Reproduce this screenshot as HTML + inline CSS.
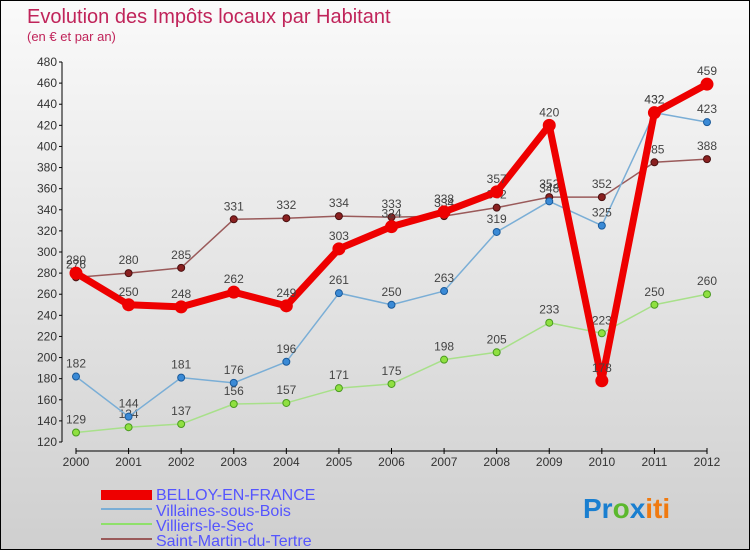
<!DOCTYPE html>
<html><head><meta charset="utf-8"><style>
body{margin:0;width:750px;height:550px;overflow:hidden;font-family:"Liberation Sans",sans-serif}
#c{position:absolute;left:0;top:0;width:748px;height:548px;border:1px solid #000;background:linear-gradient(#fafafa,#cfcfcf)}
</style></head><body>
<div id="c">
<svg id="s" width="750" height="550" xmlns="http://www.w3.org/2000/svg">
<text x="26" y="22" font-size="20" fill="#c0245a">Evolution des Impôts locaux par Habitant</text>
<text x="26" y="40" font-size="13" fill="#c0245a">(en € et par an)</text>
<g id="ax"></g><g id="series"></g>
<g>
<rect x="100" y="489" width="51" height="10" fill="#e00"/>
<text x="155" y="499" font-size="16" fill="#55f">BELLOY-EN-FRANCE</text>
<line x1="100" y1="508" x2="151" y2="508" stroke="#7aaed6" stroke-width="2"/>
<text x="155" y="515" font-size="16" fill="#55f">Villaines-sous-Bois</text>
<line x1="100" y1="523" x2="151" y2="523" stroke="#8fe06a" stroke-width="2"/>
<text x="155" y="530" font-size="16" fill="#55f">Villiers-le-Sec</text>
<line x1="100" y1="538" x2="151" y2="538" stroke="#9a5a5a" stroke-width="2"/>
<text x="155" y="545" font-size="16" fill="#55f">Saint-Martin-du-Tertre</text>
</g>
<text x="582" y="517" font-size="28" font-weight="bold"><tspan fill="#1a7fd0">Pr</tspan><tspan fill="#5cb82e">o</tspan><tspan fill="#1a7fd0">x</tspan><tspan fill="#f07a10">iti</tspan></text>
</svg></div>
<script>
const years=[2000,2001,2002,2003,2004,2005,2006,2007,2008,2009,2010,2011,2012];
const yTicks=[120,140,160,180,200,220,240,260,280,300,320,340,360,380,400,420,440,460,480];
const belloy=[280,250,248,262,249,303,324,338,357,420,178,432,459];
const villaines=[182,144,181,176,196,261,250,263,319,348,325,432,423];
const villiers=[129,134,137,156,157,171,175,198,205,233,223,250,260];
const saintMartin=[276,280,285,331,332,334,333,334,342,352,352,385,388];
const NS="http://www.w3.org/2000/svg";
function X(i){return 75+i*(706-75)/(years.length-1);}
function Y(v){return 441-(v-120)*380/360;}
function mk(t,a,p){const e=document.createElementNS(NS,t);for(const k in a)e.setAttribute(k,a[k]);p.appendChild(e);return e;}
const ax=document.getElementById('ax');
let l=mk('line',{x1:61,y1:Y(480),x2:61,y2:Y(120),stroke:'#000'},ax);


l=mk('line',{x1:75,y1:450,x2:706,y2:450,stroke:'#000'},ax);


yTicks.forEach(v=>{
 mk('line',{x1:58,y1:Y(v),x2:61,y2:Y(v),stroke:'#000'},ax);
 const t=mk('text',{x:56,y:Y(v)+4,'font-size':12,'text-anchor':'end',fill:'#333'},ax);t.textContent=v;
 
 
});
years.forEach((yr,i)=>{
 mk('line',{x1:X(i),y1:447,x2:X(i),y2:453,stroke:'#000'},ax);
 const t=mk('text',{x:X(i),y:465,'font-size':12,'text-anchor':'middle',fill:'#333'},ax);t.textContent=yr;
 
 
});
const sg=document.getElementById('series');
function draw(vals,col,w,name,dot,dotStroke,r){
 const g=mk('g',{},sg);
 
 
 const pl=mk('polyline',{points:vals.map((v,i)=>X(i)+','+Y(v)).join(' '),fill:'none',stroke:col,'stroke-width':w,'stroke-linejoin':'round'},g);
 
 
 vals.forEach((v,i)=>{
  const c=mk('circle',{cx:X(i),cy:Y(v),r:r,fill:dot,stroke:dotStroke,'stroke-width':1},g);
  
  
  const t=mk('text',{x:X(i),y:Y(v)-9,'font-size':12,'text-anchor':'middle',fill:'#444'},g);t.textContent=v;
  
  
 });
}
draw(villiers,'#a8e08a',1.5,'villiers-series','#8fe040','#4a9a20',3.5);
draw(saintMartin,'#9a5a5a',1.5,'saint-martin-series','#8a2020','#4a1010',3.5);
draw(villaines,'#7aaed6',1.5,'villaines-series','#3a8ad6','#1a5a9a',3.5);
draw(belloy,'#ee0000',7,'belloy-series','#ee0000','#ee0000',6);
</script>
</body></html>
